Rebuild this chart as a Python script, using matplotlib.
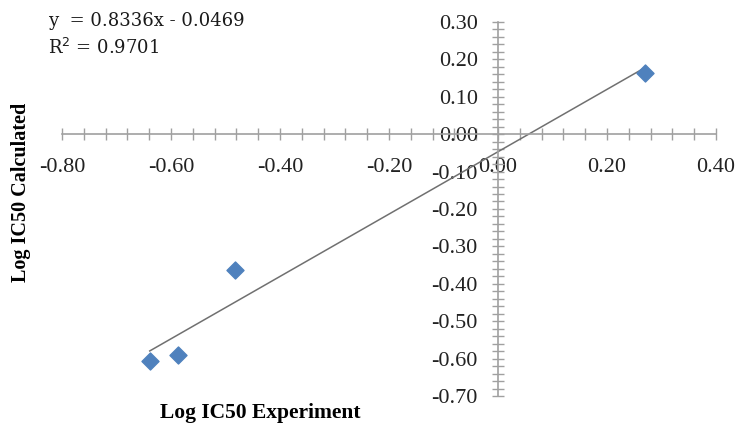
import numpy as np
import matplotlib.pyplot as plt
from matplotlib.ticker import MultipleLocator

plt.rcParams['axes.unicode_minus'] = False

# data
log_ic50_exp = [-0.639, -0.587, -0.483, 0.270]
log_ic50_calc = [-0.607, -0.591, -0.364, 0.163]
slope = 0.8336
intercept = -0.0469
r2 = 0.9701

fig = plt.figure(figsize=(7.39, 4.30), dpi=100)
ax = fig.add_axes([0.0839, 0.0791, 0.885, 0.8698])

ax.set_xlim(-0.80, 0.40)
ax.set_ylim(-0.70, 0.30)

# trendline over the data range
xs = np.array([min(log_ic50_exp), max(log_ic50_exp)])
ax.plot(xs, slope * xs + intercept, color='#707070', lw=1.1, zorder=2)
ax.scatter(log_ic50_exp, log_ic50_calc, marker='D', s=75, color='#4F81BD',
           edgecolor='#4F81BD', zorder=3)

# axes crossing at the origin
for side in ['top', 'right']:
    ax.spines[side].set_visible(False)
ax.spines['left'].set_position(('data', 0))
ax.spines['bottom'].set_position(('data', 0))
for side in ['left', 'bottom']:
    ax.spines[side].set_color('#a0a0a0')
    ax.spines[side].set_linewidth(1.2)

ax.xaxis.set_major_locator(MultipleLocator(0.2))
ax.xaxis.set_minor_locator(MultipleLocator(0.04))
ax.yaxis.set_major_locator(MultipleLocator(0.1))
ax.yaxis.set_minor_locator(MultipleLocator(0.02))
ax.xaxis.set_major_formatter(lambda v, p: f"{v:.2f}")
ax.yaxis.set_major_formatter(lambda v, p: f"{v:.2f}")

ax.tick_params(which='both', direction='inout', color='#a0a0a0', width=1)
ax.tick_params(which='major', length=9)
ax.tick_params(which='minor', length=9)
ax.tick_params(axis='x', which='major', pad=13, labelsize=16, labelcolor='#222222')
ax.tick_params(axis='y', which='major', pad=10, labelsize=16, labelcolor='#222222')
for lab in ax.get_xticklabels() + ax.get_yticklabels():
    lab.set_family('Liberation Serif')

ax.set_facecolor('none')

fig.text(0.028, 0.553, "Log IC50 Calculated", rotation=90, ha='center', va='center',
         fontsize=14.5, fontweight='bold', family='Liberation Serif')
fig.text(0.352, 0.040, "Log IC50 Experiment", ha='center', va='center',
         fontsize=15.5, fontweight='bold', family='Liberation Serif')

fig.text(0.065, 0.950, f"y  = {slope}x - {abs(intercept)}", ha='left', va='center',
         fontsize=13, family='DejaVu Serif', color='#1a1a1a')
fig.text(0.065, 0.888, f"R$^2$ = {r2}", ha='left', va='center',
         fontsize=13, family='DejaVu Serif', color='#1a1a1a')

fig.savefig('out.png', dpi=100)
